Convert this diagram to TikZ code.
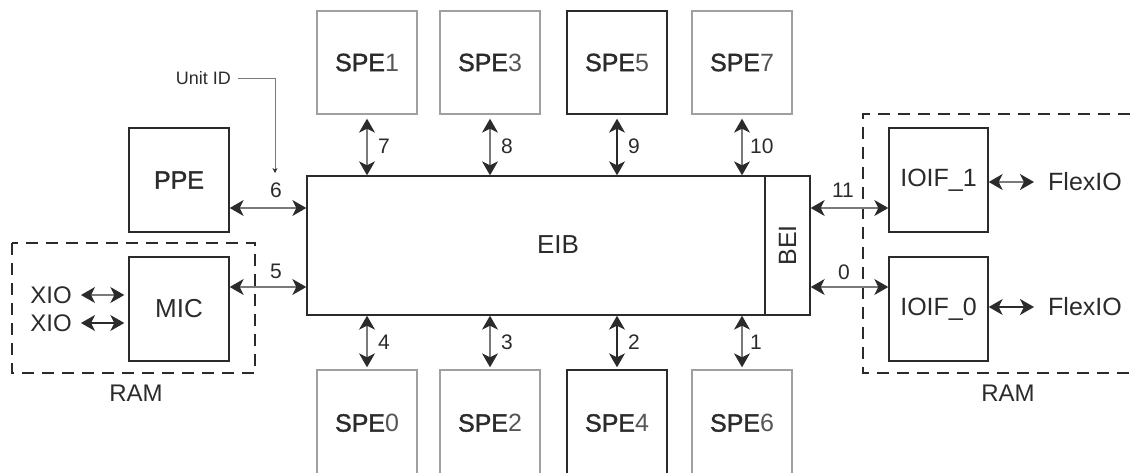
\documentclass[tikz,border=0pt]{standalone}
\usepackage{fontspec}
\setmainfont{Liberation Sans}
\newfontfamily\spefont{Liberation Sans}[FakeBold=1.5]
\usetikzlibrary{arrows.meta,calc}
\definecolor{ink}{HTML}{2B2B2B}
\definecolor{lgray}{HTML}{A0A0A0}
\definecolor{mgray}{HTML}{7A7A7A}
\newcommand\spel[2]{{\spefont #1}{\color{ink!80}#2}}
\tikzset{
  box/.style={draw=ink, line width=1.4pt, inner sep=0pt, minimum width=100pt,
    minimum height=104pt, text=ink, font=\fontsize{25}{30}\selectfont},
  lbox/.style={box, draw=lgray},
  tip/.tip={Stealth[length=14pt,width=16pt,inset=4pt,color=ink]},
  bi/.style={draw=ink, line width=1.3pt, tip-tip},
  gbi/.style={bi, draw=mgray},
  num/.style={text=ink, font=\fontsize{21}{24}\selectfont, inner sep=0pt},
  lab/.style={text=ink, font=\fontsize{24}{28}\selectfont, inner sep=0pt},
  dashbox/.style={draw=ink, line width=1.4pt, dash pattern=on 12pt off 8pt},
}
\begin{document}
\begin{tikzpicture}[x=1pt,y=-1pt]
\useasboundingbox (0,0) rectangle (1136,473);
% central bus
\node[box, minimum width=458pt, minimum height=139pt] (eib) at (536,245.5) {};
\node[lab, font=\fontsize{26}{30}\selectfont] (eibl) at (558,245) {EIB};
\node[box, minimum width=45pt, minimum height=139pt] (bei) at (787.5,245.5) {\rotatebox{90}{BEI}};
% top SPEs
\node[lbox, minimum height=103pt] (spe1) at (367,62.5) {\spel{SPE}{1}};
\node[lbox, minimum height=103pt] (spe3) at (490,62.5) {\spel{SPE}{3}};
\node[box,  minimum height=103pt] (spe5) at (617,62.5) {\spel{SPE}{5}};
\node[lbox, minimum height=103pt] (spe7) at (742,62.5) {\spel{SPE}{7}};
% bottom SPEs
\node[lbox, minimum height=106pt] (spe0) at (367,423) {\spel{SPE}{0}};
\node[lbox, minimum height=106pt] (spe2) at (490,423) {\spel{SPE}{2}};
\node[box,  minimum height=106pt] (spe4) at (617,423) {\spel{SPE}{4}};
\node[lbox, minimum height=106pt] (spe6) at (742,423) {\spel{SPE}{6}};
% left side
\node[box] (ppe) at (179,180) {\spel{PPE}{}};
\node[box, font=\fontsize{26}{30}\selectfont] (mic) at (179,309) {MIC};
% right side
\node[box, minimum width=99pt] (ioif1) at (938.5,180) {IOIF\_1};
\node[box, minimum width=99pt] (ioif0) at (938.5,309) {IOIF\_0};
% dashed regions
\draw[dashbox] (12,243) rectangle (255,373);
\draw[dashbox] (1150,114) -| (863,373) -- (1150,373);
\node[lab] (ram1) at (136,393) {RAM};
\node[lab] (ram2) at (1008,393) {RAM};
% external labels
\node[lab, anchor=east] (xio1) at (72,295) {XIO};
\node[lab, anchor=east] (xio2) at (72,323) {XIO};
\node[lab, anchor=west, font=\fontsize{25}{30}\selectfont] (flex1) at (1048,182) {FlexIO};
\node[lab, anchor=west, font=\fontsize{25}{30}\selectfont] (flex0) at (1048,307) {FlexIO};
% rows
\coordinate (r6) at (0,208);
\coordinate (r5) at (0,287);
% vertical connectors
\draw[gbi, shorten <=4pt] (spe1.south) -- (spe1.south |- eib.north);
\draw[gbi, shorten <=4pt] (spe3.south) -- (spe3.south |- eib.north);
\draw[bi,  shorten <=4pt] (spe5.south) -- (spe5.south |- eib.north);
\draw[gbi, shorten <=4pt] (spe7.south) -- (spe7.south |- eib.north);
\draw[gbi, shorten >=2pt] (spe0.north |- eib.south) -- (spe0.north);
\draw[gbi, shorten >=2pt] (spe2.north |- eib.south) -- (spe2.north);
\draw[bi,  shorten >=2pt] (spe4.north |- eib.south) -- (spe4.north);
\draw[gbi, shorten >=2pt] (spe6.north |- eib.south) -- (spe6.north);
\node[num, anchor=west] (n7) at (378,146) {7};
\node[num, anchor=west] (n8) at (501,146) {8};
\node[num, anchor=west] (n9) at (628,146) {9};
\node[num, anchor=west] (n10) at (750,146) {10};
\node[num, anchor=west] (n4) at (378,342) {4};
\node[num, anchor=west] (n3) at (501,342) {3};
\node[num, anchor=west] (n2) at (628,342) {2};
\node[num, anchor=west] (n1) at (750,342) {1};
% horizontal connectors
\draw[gbi] (ppe.east |- r6) -- (eib.west |- r6);
\draw[gbi] (mic.east |- r5) -- (eib.west |- r5);
\draw[gbi] (bei.east |- r6) -- (ioif1.west |- r6);
\draw[gbi] (bei.east |- r5) -- (ioif0.west |- r5);
\node[num] (n6) at (276,190.5) {6};
\node[num] (n5) at (276,271) {5};
\node[num] (n11) at (843,190) {11};
\node[num] (n0) at (844,272) {0};
% I/O arrows
\draw[gbi, shorten <=9pt, shorten >=4pt] (xio1.east) -- (mic.west |- xio1.east);
\draw[bi, shorten <=9pt, shorten >=4pt] (xio2.east) -- (mic.west |- xio2.east);
\draw[gbi, shorten >=14pt] (ioif1.east |- flex1.west) -- (flex1.west);
\draw[bi, shorten >=14pt] (ioif0.east |- flex0.west) -- (flex0.west);
% Unit ID pointer
\node[text=ink, font=\fontsize{18}{22}\selectfont, inner sep=0pt, anchor=east] (uid) at (231,78) {Unit ID};
\coordinate (uidc) at (275,78);
\coordinate (uidt) at (275,173);
\draw[draw=mgray, line width=0.9pt, -{Stealth[length=5pt,width=5pt,color=ink]}] ([xshift=7pt]uid.east) -- (uidc) -- (uidt);
\end{tikzpicture}
\end{document}
